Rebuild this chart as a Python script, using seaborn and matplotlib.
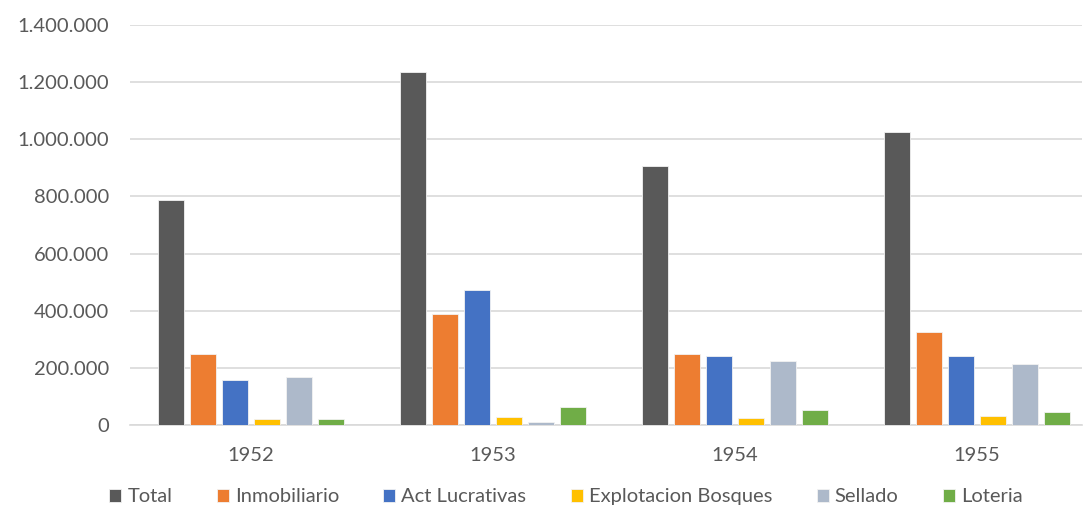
import pandas as pd
import matplotlib.pyplot as plt
import seaborn as sns
from matplotlib.ticker import FuncFormatter

years = ['1952', '1953', '1954', '1955']
series = ['Total', 'Inmobiliario', 'Act Lucrativas', 'Explotacion Bosques', 'Sellado', 'Loteria']

total        = [787000, 1237000, 906000, 1026000]
inmobiliario = [248000, 387000, 247000, 324000]
act_lucr     = [157000, 472000, 240000, 240000]
explotacion  = [22000, 29000, 23000, 30000]
sellado      = [169000, 9000, 225000, 212000]
loteria      = [22000, 64000, 51000, 44000]

colors = ['#595959', '#ED7D31', '#4472C4', '#FFC000', '#ADB9CA', '#70AD47']

values = [total, inmobiliario, act_lucr, explotacion, sellado, loteria]
rows = []
for name, vals in zip(series, values):
    for y, v in zip(years, vals):
        rows.append({'year': y, 'serie': name, 'value': v})
df = pd.DataFrame(rows)

sns.set_style('white')
plt.rcParams['font.family'] = ['Lato', 'DejaVu Sans']

fig = plt.figure(figsize=(10.86, 5.08), dpi=100)
ax = fig.add_axes([0.1197, 0.1634, 0.8766, 0.7874])

sns.barplot(data=df, x='year', y='value', hue='serie', hue_order=series,
            palette=colors, saturation=1, width=0.79, gap=0.19, ax=ax,
            edgecolor='#F2F2F2', linewidth=0.6, zorder=3)

ax.set_xlim(-0.5, 3.434)
ax.set_ylim(0, 1400000)
ax.set_yticks(range(0, 1400001, 200000))
ax.yaxis.set_major_formatter(FuncFormatter(lambda v, p: f'{int(v):,}'.replace(',', '.')))
ax.grid(axis='y', color='#D9D9D9', linewidth=1.2, zorder=0)
ax.set_axisbelow(True)
for s in ['top', 'right', 'left']:
    ax.spines[s].set_visible(False)
ax.spines['bottom'].set_color('#D9D9D9')
ax.spines['bottom'].set_linewidth(1.2)
ax.tick_params(axis='both', length=0, labelsize=14.5, colors='#595959')
ax.tick_params(axis='y', pad=15)
ax.tick_params(axis='x', pad=16)
ax.set_xlabel('')
ax.set_ylabel('')

handles, labels = ax.get_legend_handles_labels()
ax.get_legend().remove()
fig.legend(handles, labels, loc='center', bbox_to_anchor=(0.521, 0.022), ncol=6,
           frameon=False, fontsize=14.5, labelcolor='#595959',
           handlelength=0.6, handleheight=0.6, handletextpad=0.3,
           columnspacing=2.2)

plt.savefig('out.png', dpi=100)
plt.close()
